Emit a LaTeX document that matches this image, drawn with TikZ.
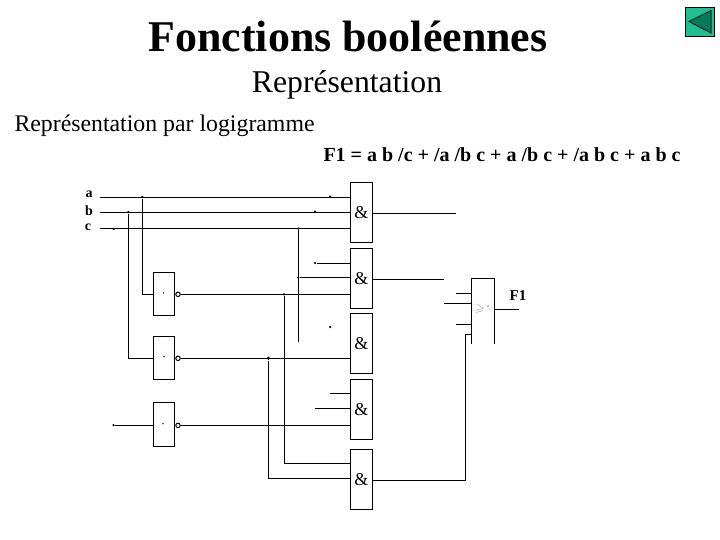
\documentclass[tikz,border=0pt]{standalone}
\usepackage{amssymb}
\usepackage{fontspec}
\setmainfont{Liberation Serif}
\definecolor{backfill}{RGB}{32,190,145}
\definecolor{backtri}{RGB}{10,120,90}
\begin{document}
\begin{tikzpicture}[x=1pt,y=-1pt,line width=1pt,
	gate/.style={draw,rectangle,minimum width=22pt,minimum height=60pt,inner sep=0pt,font=\fontsize{18}{18}\selectfont},
	invgate/.style={draw,rectangle,minimum width=21.5pt,inner sep=0pt},
	bubble/.style={draw,circle,minimum size=4.5pt,inner sep=0pt,anchor=west},
	jdot/.style={fill,circle,minimum size=2.5pt,inner sep=0pt},
	varlab/.style={font=\fontsize{14}{14}\selectfont\bfseries,inner sep=0pt}]
	\useasboundingbox (0,0) rectangle (720,540);
	% titles
	\node (title) at (348,36) {\fontsize{43.9}{44}\selectfont\bfseries Fonctions booléennes};
	\node (subtitle) at (347,85) {\fontsize{31.7}{32}\selectfont Représentation};
	\node[anchor=west,inner sep=0pt] (section) at (14,126) {\fontsize{23.8}{24}\selectfont Représentation par logigramme};
	\node[anchor=west,inner sep=0pt] (formula) at (323,155) {\fontsize{20}{20}\selectfont\bfseries F1 = a b /c + /a /b c + a /b c + /a b c + a b c};
	% bouton retour
	\node[draw,fill=backfill,minimum size=29pt,inner sep=0pt] (back) at (699.8,22) {};
	\fill[backtri,draw=black!60!backtri] (689,21.5) -- (711,10.5) -- (711,33) -- cycle;
	% portes
	\node[gate] (gA) at (361.3,212.3) {\&};
	\node[gate] (gB) at (361.3,278.3) {\&};
	\node[gate] (gC) at (361.3,343.3) {\&};
	\node[gate] (gD) at (361.3,409.3) {\&};
	\node[gate] (gE) at (361.3,479.3) {\&};
	\node[invgate,minimum height=43pt] (n1) at (164,293.8) {};
	\node[invgate,minimum height=43.3pt] (n2) at (164,357.7) {};
	\node[invgate,minimum height=44pt] (n3) at (164,424.3) {};
	\node[bubble] (b1) at (n1.east |- 0,294.3) {};
	\node[bubble] (b2) at (n2.east |- 0,358.3) {};
	\node[bubble] (b3) at (n3.east |- 0,425.4) {};
	\node[jdot,minimum size=1.5pt] (m1) at (163.5,293) {};
	\node[jdot,minimum size=1.5pt] (m2) at (164,356.5) {};
	\node[jdot,minimum size=1.5pt] (m3) at (163,423.5) {};
	% porte OU (ouverte en bas)
	\coordinate (orNW) at (471.3,278.3);
	\coordinate (orNE) at (494.3,278.3);
	\coordinate (orSW) at (471.3,344);
	\coordinate (orSE) at (494.3,344);
	\draw (orSW) -- (orNW) -- (orNE) -- (orSE);
	\node[text=black!45,inner sep=0pt] (orlab) at (480,309) {\rotatebox{-10}{\fontsize{12}{12}\selectfont$\geqslant$}};
	\node[jdot,minimum size=1.2pt] (ordot) at (488,306) {};
	% entrees
	\node[varlab] (la) at (89,194) {a};
	\node[varlab] (lb) at (89,211) {b};
	\node[varlab] (lc) at (88,227) {c};
	\coordinate (ina) at (100,197.3);
	\coordinate (inb) at (100,212.3);
	\coordinate (inc) at (100,228.6);
	\draw (ina) -- (ina -| gA.west);
	\draw (inb) -- (inb -| gA.west);
	\draw (inc) -- (inc -| gA.west);
	% jonctions
	\node[jdot] (ja) at (142.3,197) {};
	\node[jdot] (jb) at (128.3,212) {};
	\node[jdot] (jc) at (113.5,229) {};
	\node[jdot] (jc2) at (298.3,228.6) {};
	\node[jdot] (jc3) at (298.3,277.7) {};
	\node[jdot] (j1) at (284,294.3) {};
	\node[jdot,minimum size=3.5pt] (j2) at (268.3,358.3) {};
	\node[jdot] (s1) at (330,196.5) {};
	\node[jdot] (s2) at (315,211.7) {};
	\node[jdot] (s3) at (315,263) {};
	\node[jdot] (s4) at (330,327) {};
	\node[jdot] (s5) at (113.5,425.2) {};
	\coordinate (s6) at (330,393.3);
	\coordinate (s7) at (315,408.3);
	\coordinate (jcend) at (298.3,341.7);
	% liaisons vers les inverseurs
	\draw (ja) |- (n1.west |- b1);
	\draw (jb) |- (n2.west |- b2);
	\draw (s5) -- (s5 -| n3.west);
	\draw (b1) -- (b1 -| gB.west);
	\draw (b2) -- (b2 -| gC.west);
	\draw (b3) -- (b3 -| gD.west);
	% liaisons vers les portes
	\draw (jc2) -- (jcend);
	\draw (s3) -- (s3 -| gB.west);
	\draw (jc3) -- (jc3 -| gB.west);
	\draw (s6) -- (s6 -| gD.west);
	\draw (s7) -- (s7 -| gD.west);
	\coordinate (e1) at (gE.west |- 0,463.3);
	\coordinate (e2) at (gE.west |- 0,478);
	\draw (j1) |- (e1);
	\draw (j2) |- (e2);
	% sorties
	\coordinate (outA) at (gA.east |- 0,213.3);
	\coordinate (outB) at (gB.east |- 0,279.3);
	\coordinate (outE) at (gE.east |- 0,480.3);
	\draw (outA) -- (455.7,213.3);
	\draw (outB) -- (444,279.3);
	\coordinate (or1) at (orNW |- 0,293.3);
	\coordinate (or2) at (orNW |- 0,303.3);
	\coordinate (or3) at (orNW |- 0,324.3);
	\coordinate (or4) at (orNW |- 0,334.7);
	\draw (or1) -- ++(-15.3,0);
	\draw (or2) -- ++(-27.3,0);
	\draw (or3) -- ++(-15.3,0);
	\draw (outE) -- (465.7,480.3) |- (or4);
	\coordinate (orout) at (orNE |- 0,309.3);
	\coordinate (fout) at (519,309.3);
	\draw (orout) -- (fout);
	\node[font=\fontsize{15}{15}\selectfont\bfseries,inner sep=0pt] (F) at (518,296) {F1};
\end{tikzpicture}
\end{document}
